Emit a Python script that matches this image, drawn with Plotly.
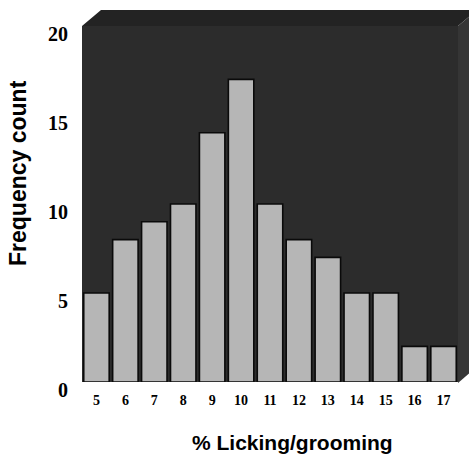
import plotly.graph_objects as go

categories = [5, 6, 7, 8, 9, 10, 11, 12, 13, 14, 15, 16, 17]
counts = [5, 8, 9, 10, 14, 17, 10, 8, 7, 5, 5, 2, 2]
y_ticks = [0, 5, 10, 15, 20]

W, H = 469, 457
L, R, T, B = 82, 11, 26, 75
pw, ph = W - L - R, H - T - B

def px(x):
    return (x - L) / pw

def py(y):
    return (H - B - y) / ph

fig = go.Figure()
fig.add_trace(go.Bar(
    x=categories, y=counts,
    marker=dict(color="#b6b6b6", line=dict(color="#0a0a0a", width=1.6)),
    width=0.88,
))

# 3D frame faces (decoration)
top_face = f"M {px(82)},{py(26)} L {px(101)},{py(10)} L {px(469)},{py(10)} L {px(469)},{py(16.7)} L {px(458)},{py(26)} Z"
right_face = f"M {px(458)},{py(26)} L {px(469)},{py(16.7)} L {px(469)},{py(373.5)} L {px(458)},{py(383)} Z"
shapes = [
    dict(type="path", xref="paper", yref="paper", path=top_face,
         fillcolor="#232323", line=dict(width=0), layer="above"),
    dict(type="path", xref="paper", yref="paper", path=right_face,
         fillcolor="#353535", line=dict(width=0), layer="above"),
]

fig.update_layout(
    width=W, height=H,
    margin=dict(l=L, r=R, t=T, b=B),
    paper_bgcolor="white",
    plot_bgcolor="#2c2c2c",
    showlegend=False,
    shapes=shapes,
    xaxis=dict(
        range=[4.5, 17.5], tickmode="array", tickvals=categories,
        ticktext=[str(c) for c in categories],
        showgrid=False, zeroline=False, showline=False, ticks="",
        tickfont=dict(family="Liberation Serif", size=14, color="black", weight="bold"),
        ticklabelstandoff=8,
    ),
    yaxis=dict(
        range=[0, 20], tickmode="array", tickvals=y_ticks,
        showgrid=False, zeroline=False, showline=False, ticks="",
        tickfont=dict(family="Liberation Serif", size=20, color="black", weight="bold"),
        ticklabelshift=8, ticklabelstandoff=13,
    ),
    annotations=[
        dict(text="% Licking/grooming", xref="paper", yref="paper",
             x=px(292), y=py(442), xanchor="center", yanchor="middle",
             showarrow=False,
             font=dict(family="Liberation Sans", size=21, color="black", weight="bold")),
        dict(text="Frequency count", xref="paper", yref="paper",
             x=px(18), y=py(173), xanchor="center", yanchor="middle",
             textangle=-90, showarrow=False,
             font=dict(family="Liberation Sans", size=23, color="black", weight="bold")),
    ],
)

fig.write_html("out.html")
